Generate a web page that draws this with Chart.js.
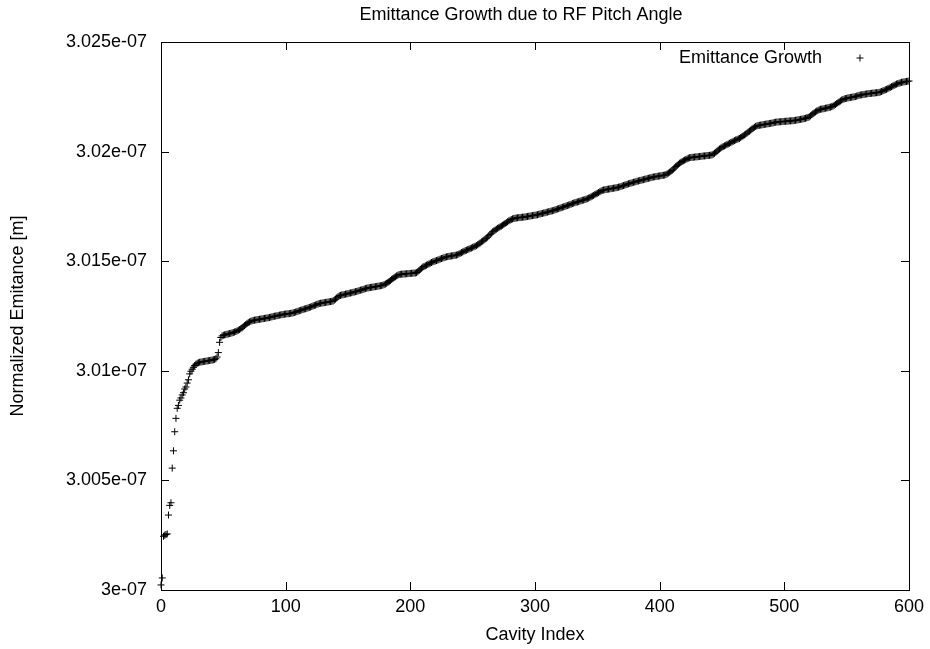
<!DOCTYPE html>
<html>
<head>
<meta charset="utf-8">
<title>Emittance Growth due to RF Pitch Angle</title>
<script src="https://cdn.jsdelivr.net/npm/chart.js@4.4.1/dist/chart.umd.min.js"></script>
<style>
  html, body { margin: 0; padding: 0; background: #fff; }
  canvas { display: block; }
</style>
</head>
<body>
<canvas id="emittanceChart" width="930" height="649"></canvas>
<script>
// ─── Data ─────────────────────────────────────────────────────
// normalized emittance per cavity, in units of 1e-7 m (cavity index = array position)
const emittance = [
  3.00023, 3.00055, 3.00245, 3.00250, 3.00253, 3.00256, 3.00342, 3.00386, 3.00398, 3.00556,
  3.00635, 3.00722, 3.00783, 3.00829, 3.00842, 3.00866, 3.00876, 3.00890, 3.00900, 3.00917,
  3.00926, 3.00944, 3.00959, 3.00986, 3.00998, 3.01007, 3.01016, 3.01024, 3.01030, 3.01034,
  3.01037, 3.01039, 3.01040, 3.01041, 3.01042, 3.01043, 3.01044, 3.01045, 3.01046, 3.01047,
  3.01048, 3.01049, 3.01050, 3.01052, 3.01055, 3.01063, 3.01083, 3.01130, 3.01152, 3.01159,
  3.01162, 3.01164, 3.01165, 3.01167, 3.01168, 3.01170, 3.01171, 3.01173, 3.01175, 3.01177,
  3.01179, 3.01182, 3.01185, 3.01188, 3.01192, 3.01196, 3.01201, 3.01206, 3.01211, 3.01216,
  3.01220, 3.01223, 3.01226, 3.01228, 3.01230, 3.01231, 3.01232, 3.01233, 3.01234, 3.01235,
  3.01236, 3.01237, 3.01238, 3.01239, 3.01240, 3.01241, 3.01242, 3.01243, 3.01245, 3.01246,
  3.01248, 3.01249, 3.01250, 3.01251, 3.01252, 3.01254, 3.01255, 3.01256, 3.01257, 3.01258,
  3.01259, 3.01260, 3.01260, 3.01261, 3.01262, 3.01263, 3.01264, 3.01266, 3.01268, 3.01270,
  3.01272, 3.01274, 3.01276, 3.01278, 3.01280, 3.01282, 3.01283, 3.01285, 3.01287, 3.01289,
  3.01291, 3.01293, 3.01296, 3.01298, 3.01300, 3.01303, 3.01305, 3.01307, 3.01308, 3.01309,
  3.01310, 3.01311, 3.01312, 3.01313, 3.01314, 3.01315, 3.01316, 3.01317, 3.01318, 3.01322,
  3.01327, 3.01333, 3.01338, 3.01342, 3.01344, 3.01346, 3.01347, 3.01348, 3.01350, 3.01351,
  3.01352, 3.01354, 3.01355, 3.01356, 3.01358, 3.01359, 3.01361, 3.01362, 3.01364, 3.01366,
  3.01368, 3.01369, 3.01371, 3.01373, 3.01375, 3.01377, 3.01378, 3.01379, 3.01380, 3.01381,
  3.01382, 3.01383, 3.01384, 3.01385, 3.01386, 3.01387, 3.01388, 3.01389, 3.01391, 3.01393,
  3.01396, 3.01399, 3.01403, 3.01407, 3.01412, 3.01417, 3.01421, 3.01425, 3.01429, 3.01433,
  3.01436, 3.01439, 3.01440, 3.01441, 3.01441, 3.01442, 3.01442, 3.01443, 3.01443, 3.01444,
  3.01444, 3.01445, 3.01445, 3.01446, 3.01446, 3.01448, 3.01452, 3.01457, 3.01463, 3.01468,
  3.01473, 3.01476, 3.01479, 3.01482, 3.01485, 3.01488, 3.01491, 3.01494, 3.01497, 3.01499,
  3.01501, 3.01503, 3.01505, 3.01507, 3.01510, 3.01512, 3.01514, 3.01516, 3.01518, 3.01520,
  3.01521, 3.01522, 3.01523, 3.01524, 3.01525, 3.01526, 3.01527, 3.01528, 3.01530, 3.01533,
  3.01536, 3.01539, 3.01542, 3.01545, 3.01548, 3.01550, 3.01553, 3.01555, 3.01558, 3.01560,
  3.01563, 3.01566, 3.01568, 3.01571, 3.01575, 3.01579, 3.01583, 3.01588, 3.01592, 3.01596,
  3.01601, 3.01605, 3.01610, 3.01616, 3.01622, 3.01628, 3.01634, 3.01638, 3.01642, 3.01646,
  3.01650, 3.01653, 3.01657, 3.01660, 3.01664, 3.01668, 3.01672, 3.01676, 3.01680, 3.01684,
  3.01687, 3.01690, 3.01693, 3.01695, 3.01696, 3.01697, 3.01698, 3.01699, 3.01699, 3.01700,
  3.01701, 3.01701, 3.01702, 3.01703, 3.01704, 3.01705, 3.01706, 3.01707, 3.01708, 3.01709,
  3.01710, 3.01711, 3.01712, 3.01714, 3.01715, 3.01717, 3.01718, 3.01720, 3.01721, 3.01723,
  3.01724, 3.01726, 3.01727, 3.01729, 3.01730, 3.01732, 3.01734, 3.01736, 3.01738, 3.01740,
  3.01742, 3.01744, 3.01746, 3.01748, 3.01750, 3.01752, 3.01754, 3.01756, 3.01758, 3.01760,
  3.01763, 3.01765, 3.01767, 3.01769, 3.01770, 3.01772, 3.01774, 3.01776, 3.01778, 3.01779,
  3.01781, 3.01783, 3.01785, 3.01788, 3.01791, 3.01794, 3.01797, 3.01800, 3.01804, 3.01807,
  3.01810, 3.01813, 3.01817, 3.01820, 3.01823, 3.01825, 3.01826, 3.01827, 3.01828, 3.01829,
  3.01830, 3.01831, 3.01832, 3.01833, 3.01834, 3.01835, 3.01836, 3.01838, 3.01839, 3.01841,
  3.01843, 3.01845, 3.01847, 3.01849, 3.01851, 3.01853, 3.01855, 3.01856, 3.01858, 3.01860,
  3.01861, 3.01863, 3.01865, 3.01866, 3.01868, 3.01869, 3.01871, 3.01872, 3.01874, 3.01875,
  3.01877, 3.01878, 3.01880, 3.01881, 3.01883, 3.01884, 3.01885, 3.01886, 3.01887, 3.01888,
  3.01889, 3.01890, 3.01891, 3.01892, 3.01893, 3.01895, 3.01898, 3.01902, 3.01906, 3.01910,
  3.01914, 3.01920, 3.01926, 3.01932, 3.01937, 3.01942, 3.01947, 3.01951, 3.01955, 3.01958,
  3.01961, 3.01964, 3.01967, 3.01970, 3.01972, 3.01973, 3.01974, 3.01974, 3.01975, 3.01976,
  3.01976, 3.01977, 3.01978, 3.01978, 3.01979, 3.01980, 3.01980, 3.01981, 3.01982, 3.01982,
  3.01983, 3.01984, 3.01985, 3.01988, 3.01992, 3.01997, 3.02002, 3.02007, 3.02012, 3.02016,
  3.02020, 3.02023, 3.02026, 3.02029, 3.02032, 3.02035, 3.02038, 3.02041, 3.02044, 3.02047,
  3.02050, 3.02053, 3.02055, 3.02058, 3.02060, 3.02064, 3.02068, 3.02072, 3.02076, 3.02080,
  3.02084, 3.02089, 3.02093, 3.02098, 3.02103, 3.02107, 3.02111, 3.02115, 3.02117, 3.02119,
  3.02120, 3.02121, 3.02122, 3.02123, 3.02124, 3.02125, 3.02126, 3.02127, 3.02128, 3.02129,
  3.02130, 3.02131, 3.02133, 3.02134, 3.02135, 3.02135, 3.02136, 3.02136, 3.02137, 3.02137,
  3.02138, 3.02138, 3.02139, 3.02139, 3.02140, 3.02140, 3.02141, 3.02141, 3.02142, 3.02143,
  3.02144, 3.02145, 3.02146, 3.02147, 3.02148, 3.02149, 3.02151, 3.02152, 3.02154, 3.02156,
  3.02158, 3.02163, 3.02168, 3.02173, 3.02177, 3.02181, 3.02185, 3.02188, 3.02191, 3.02193,
  3.02194, 3.02195, 3.02196, 3.02198, 3.02199, 3.02200, 3.02202, 3.02203, 3.02205, 3.02207,
  3.02211, 3.02215, 3.02219, 3.02223, 3.02227, 3.02231, 3.02235, 3.02238, 3.02240, 3.02242,
  3.02243, 3.02245, 3.02246, 3.02247, 3.02248, 3.02249, 3.02250, 3.02251, 3.02253, 3.02255,
  3.02257, 3.02258, 3.02259, 3.02260, 3.02261, 3.02262, 3.02263, 3.02264, 3.02265, 3.02265,
  3.02266, 3.02267, 3.02267, 3.02268, 3.02269, 3.02269, 3.02270, 3.02272, 3.02274, 3.02277,
  3.02279, 3.02282, 3.02284, 3.02287, 3.02290, 3.02293, 3.02296, 3.02299, 3.02302, 3.02305,
  3.02308, 3.02310, 3.02312, 3.02314, 3.02316, 3.02317, 3.02318, 3.02319, 3.02320, 3.02321,
  3.02322
];

const cavityTicks = [0, 100, 200, 300, 400, 500, 600];
const emittanceTicks = [3.0, 3.005, 3.01, 3.015, 3.02, 3.025];

const seriesLabel = 'Emittance Growth';
const chartTitle = 'Emittance Growth due to RF Pitch Angle';

// ─── Styling ──────────────────────────────────────────────────
const FONT = { family: '"Liberation Sans", Arial, Helvetica, sans-serif', size: 18 };
const FONT_CSS = '18px "Liberation Sans", Arial, Helvetica, sans-serif';
const TICK_LEN = 8;

Chart.defaults.color = '#000';
Chart.defaults.font = FONT;

// gnuplot-like frame: border plus inward ticks on all four sides
const frameTicks = {
    id: 'frameTicks',
    beforeDatasetsDraw(chart) {
        const { ctx, chartArea: a, scales: { x, y } } = chart;
        ctx.save();
        ctx.strokeStyle = '#000';
        ctx.lineWidth = 1;
        ctx.strokeRect(a.left + 0.5, a.top + 0.5, a.right - a.left, a.bottom - a.top);
        ctx.beginPath();
        x.ticks.forEach(t => {
            const px = Math.round(x.getPixelForValue(t.value)) + 0.5;
            ctx.moveTo(px, a.bottom); ctx.lineTo(px, a.bottom - TICK_LEN);
            ctx.moveTo(px, a.top); ctx.lineTo(px, a.top + TICK_LEN);
        });
        y.ticks.forEach(t => {
            const py = Math.round(y.getPixelForValue(t.value)) + 0.5;
            ctx.moveTo(a.left, py); ctx.lineTo(a.left + TICK_LEN, py);
            ctx.moveTo(a.right, py); ctx.lineTo(a.right - TICK_LEN, py);
        });
        ctx.stroke();
        ctx.restore();
    }
};

// title above the frame and key in the upper right corner
const titleAndKey = {
    id: 'titleAndKey',
    afterDraw(chart) {
        const { ctx, chartArea: a } = chart;
        ctx.save();
        ctx.fillStyle = '#000';
        ctx.font = FONT_CSS;
        ctx.textBaseline = 'middle';
        ctx.textAlign = 'center';
        ctx.fillText(chartTitle, (a.left + a.right) / 2 - 14, 15);

        const keyY = a.top + 16;
        ctx.textAlign = 'right';
        ctx.fillText(seriesLabel, a.right - 87, keyY);
        const kx = a.right - 49;
        ctx.strokeStyle = '#000';
        ctx.lineWidth = 1;
        ctx.beginPath();
        ctx.moveTo(kx - 3.5, keyY); ctx.lineTo(kx + 3.5, keyY);
        ctx.moveTo(kx, keyY - 3.5); ctx.lineTo(kx, keyY + 3.5);
        ctx.stroke();
        ctx.restore();
    }
};

// ─── Chart ────────────────────────────────────────────────────
new Chart(document.getElementById('emittanceChart'), {
    type: 'scatter',
    data: {
        datasets: [{
            label: seriesLabel,
            data: emittance.map((v, i) => ({ x: i, y: v })),
            pointStyle: 'cross',
            pointRadius: 3.5,
            pointBorderWidth: 1,
            pointBorderColor: '#000',
            pointBackgroundColor: '#000',
            showLine: false,
            clip: false
        }]
    },
    options: {
        responsive: false,
        animation: false,
        devicePixelRatio: 1,
        layout: { padding: { top: 42, right: 20, bottom: 0, left: 0 } },
        plugins: {
            legend: { display: false },
            tooltip: { enabled: false },
            title: { display: false }
        },
        scales: {
            x: {
                type: 'linear',
                min: 0,
                max: 600,
                grid: { display: false, drawTicks: false, tickLength: 0 },
                border: { display: false },
                afterBuildTicks: s => { s.ticks = cavityTicks.map(v => ({ value: v })); },
                afterFit: s => { s.height = 59; },
                ticks: { padding: 6, font: FONT, maxRotation: 0 },
                title: { display: true, text: 'Cavity Index', font: FONT, padding: { top: 0, bottom: 3 } }
            },
            y: {
                type: 'linear',
                min: 3.0,
                max: 3.025,
                grid: { display: false, drawTicks: false, tickLength: 0 },
                border: { display: false },
                afterBuildTicks: s => { s.ticks = emittanceTicks.map(v => ({ value: v })); },
                afterFit: s => { s.width = 161; },
                ticks: {
                    padding: 14,
                    font: FONT,
                    callback: v => parseFloat(v.toFixed(3)) + 'e-07'
                },
                title: { display: true, text: 'Normalized Emitance [m]', font: FONT, padding: { top: 7, bottom: 0 } }
            }
        }
    },
    plugins: [frameTicks, titleAndKey]
});
</script>
</body>
</html>
